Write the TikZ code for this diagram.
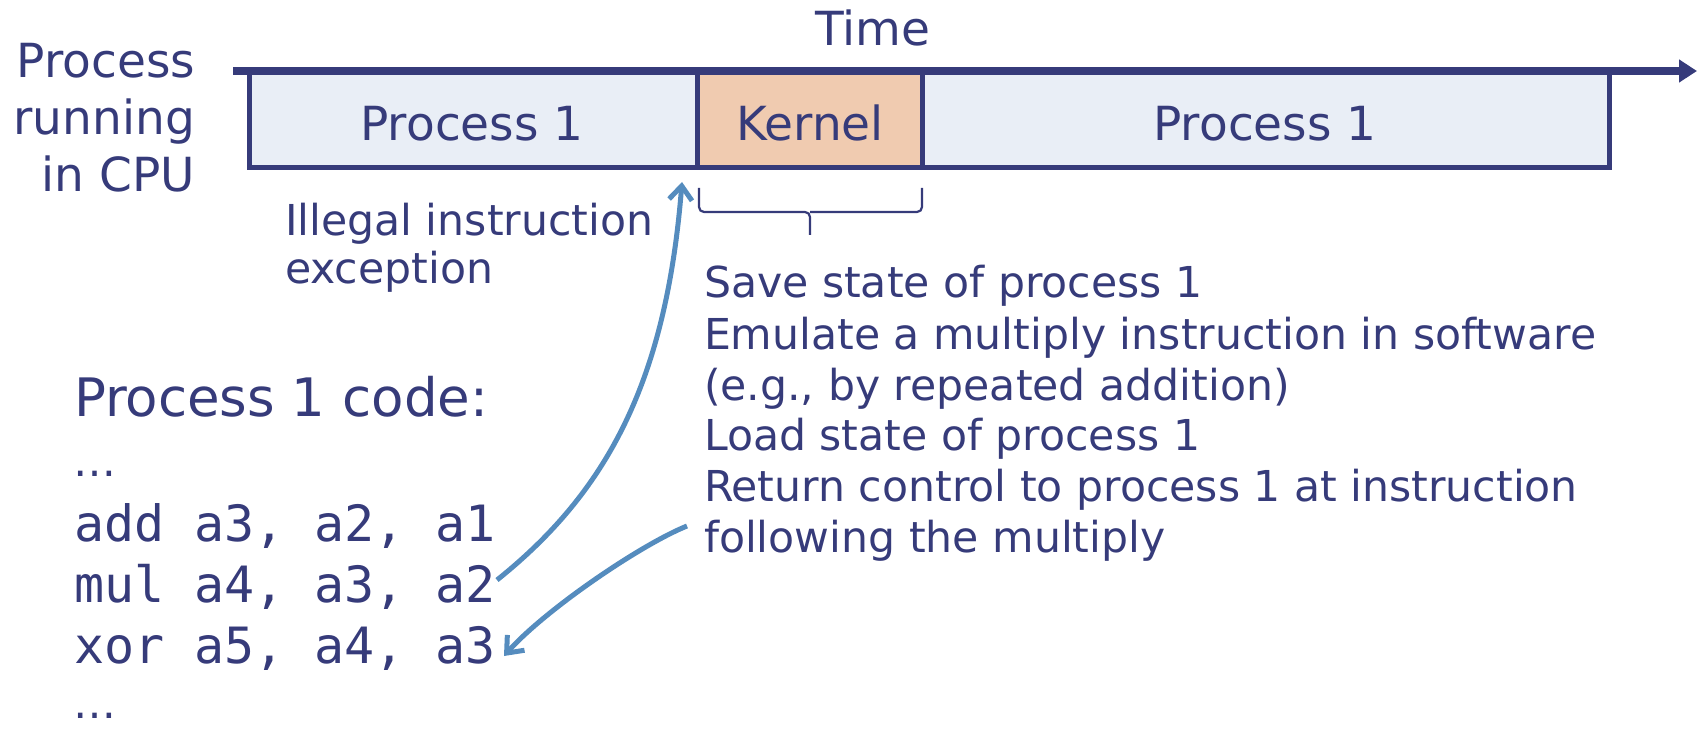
\documentclass[tikz,border=0pt]{standalone}
\usepackage{fontspec}
\setmainfont{DejaVu Sans}
\setmonofont{DejaVu Sans Mono}
\usetikzlibrary{arrows.meta}

\definecolor{ink}{RGB}{54,59,122}
\definecolor{slotfill}{RGB}{233,238,246}
\definecolor{kernfill}{RGB}{240,203,176}
\definecolor{flow}{RGB}{85,140,190}

\begin{document}
\begin{tikzpicture}[x=1pt,y=-1pt,
  big/.style={inner sep=0pt, outer sep=0pt, text=ink, font=\fontsize{47}{56}\selectfont},
  note/.style={inner sep=0pt, outer sep=0pt, text=ink, font=\fontsize{42.6}{51}\selectfont, anchor=base west},
  codehead/.style={inner sep=0pt, outer sep=0pt, text=ink, font=\fontsize{53}{62}\selectfont, anchor=base west},
  codeline/.style={inner sep=0pt, outer sep=0pt, text=ink, font=\ttfamily\fontsize{50}{60}\selectfont, anchor=base west},
  elide/.style={inner sep=0pt, outer sep=0pt, text=ink, font=\fontsize{43}{50}\selectfont, anchor=base west},
  slot/.style={draw=ink, line width=5pt, fill=slotfill, anchor=north west,
    minimum height=96.5pt, inner sep=0pt, outer sep=0pt},
  kslot/.style={slot, fill=kernfill},
  axis/.style={draw=ink, line width=7.5pt, -{Triangle[length=18pt,width=22pt]}},
  flowarrow/.style={draw=flow, line width=5pt, -{Straight Barb[length=14pt,width=23pt]}},
  bracket/.style={draw=ink, line width=2.2pt, rounded corners=5pt}
]
\useasboundingbox (0,0) rectangle (1698,735);

% timeline slots
\node[slot, minimum width=448pt] (run1) at (249,71.5) {};
\node[slot, minimum width=687pt] (run2) at (922,71.5) {};
\node[kslot, minimum width=225pt] (kern) at (697,71.5) {};

\node[big, anchor=base] (run1lbl) at (472,141) {Process 1};
\node[big, anchor=base] (kernlbl) at (810,141) {Kernel};
\node[big, anchor=base] (run2lbl) at (1265,141) {Process 1};

% time axis
\coordinate (axisL) at (233,71);
\coordinate (axisR) at (1697,71);
\draw[axis] (axisL) -- (axisR);
\node[big, anchor=base] (timelbl) at (873,46) {Time};

% row caption
\node[big, anchor=base east] (cap1) at (195,78) {Process};
\node[big, anchor=base east] (cap2) at (195,135) {running};
\node[big, anchor=base east] (cap3) at (195,192) {in CPU};

% brace under the kernel slot
\draw[bracket] (699,188) |- (810,212) -- (810,235);
\draw[bracket] (922,188) |- (810,212);

% exception label
\node[note] (ill1) at (285,236) {Illegal instruction};
\node[note] (ill2) at (285,284) {exception};

% kernel actions
\node[note] (k1) at (704,298) {Save state of process 1};
\node[note] (k2) at (704,349) {Emulate a multiply instruction in software};
\node[note] (k3) at (704,400) {(e.g., by repeated addition)};
\node[note] (k4) at (704,450) {Load state of process 1};
\node[note] (k5) at (704,501) {Return control to process 1 at instruction};
\node[note] (k6) at (704,552) {following the multiply};

% program listing
\node[codehead] (codetitle) at (74,417) {Process 1 code:};
\node[elide] (c0) at (73,476) {…};
\node[codeline] (c1) at (74,541) {add a3, a2, a1};
\node[codeline] (c2) at (74,602) {mul a4, a3, a2};
\node[codeline] (c3) at (74,663) {xor a5, a4, a3};
\node[elide] (c4) at (73,718) {…};

% trap and return
\coordinate (trapFrom) at (497,580);
\coordinate (trapTo) at (682,182);
\draw[flowarrow] (trapFrom) .. controls (607,492) and (666,382) .. (trapTo);

\coordinate (retFrom) at (687,526);
\coordinate (retTo) at (504,656);
\draw[flowarrow] (retFrom) .. controls (640,545) and (545,610) .. (retTo);
\end{tikzpicture}
\end{document}
